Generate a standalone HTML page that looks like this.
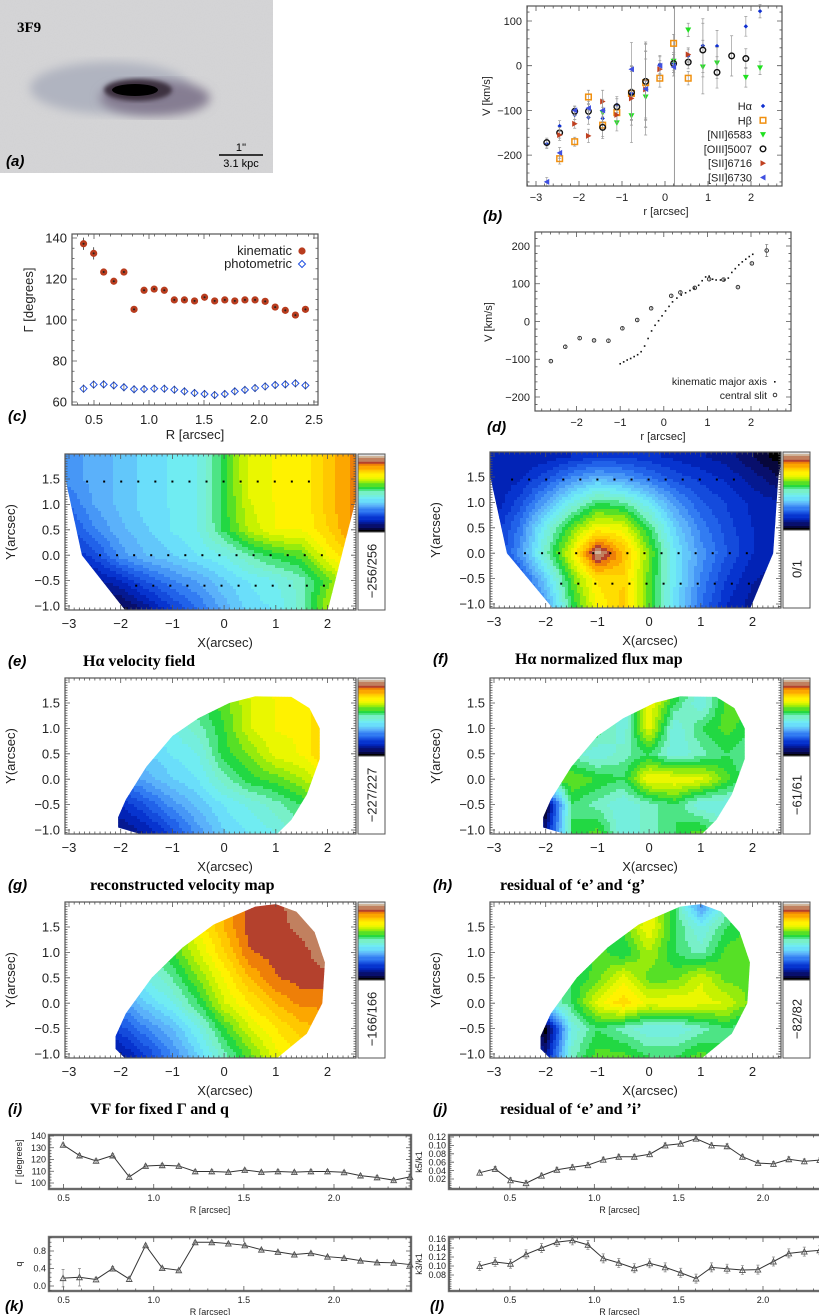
<!DOCTYPE html>
<html><head><meta charset="utf-8">
<style>
html,body{margin:0;padding:0;background:#fff;}
svg{display:block;}
text{font-family:"Liberation Sans",sans-serif;}
.ser{font-family:"Liberation Serif",serif;font-weight:bold;}
</style></head>
<body>
<svg id="fig" xmlns="http://www.w3.org/2000/svg" width="819" height="1315" viewBox="0 0 819 1315">
<defs>
<filter id="blur3"><feGaussianBlur stdDeviation="5"/></filter>
<filter id="blur1"><feGaussianBlur stdDeviation="2"/></filter>
<filter id="noise" x="0" y="0" width="100%" height="100%"><feTurbulence type="fractalNoise" baseFrequency="0.9" numOctaves="2" seed="3"/><feColorMatrix type="matrix" values="0 0 0 0 0.5  0 0 0 0 0.5  0 0 0 0 0.5  0 0 0 0.5 0"/></filter>
</defs>
<g>
<rect x="0" y="0" width="273" height="173" fill="#d6d6d8"/>
<rect x="0" y="0" width="273" height="173" filter="url(#noise)" opacity="0.35"/>
<ellipse cx="110" cy="88" rx="80" ry="26" fill="#b0b4c0" filter="url(#blur3)"/>
<ellipse cx="155" cy="98" rx="55" ry="18" fill="#857d92" filter="url(#blur3)"/>
<ellipse cx="138" cy="90" rx="34" ry="11" fill="#3c3040" filter="url(#blur1)"/>
<ellipse cx="135" cy="90" rx="23" ry="6" fill="#000"/>
<text x="17" y="32" class="ser" font-size="15">3F9</text>
<line x1="219" y1="155" x2="263" y2="155" stroke="#000" stroke-width="1.5"/>
<text x="241" y="151" text-anchor="middle" font-family="Liberation Serif" font-size="11">1''</text>
<text x="241" y="167" text-anchor="middle" font-family="Liberation Serif" font-size="11">3.1 kpc</text>
<text x="6" y="166" font-size="15" font-style="italic" font-weight="bold">(a)</text>
</g>
</svg>
<script>
// ---------------- DATA ----------------
const bR = [-2.75,-2.45,-2.1,-1.78,-1.45,-1.12,-0.78,-0.45,-0.12,0.2,0.54,0.88,1.21,1.55,1.88,2.21];
const bHa   = [-175,-135,-110,-116,-118,-87,-62,-32,3,5,22,45,44,null,88,122];
const bHb   = [null,-208,-170,-70,-133,-105,-62,-38,-28,50,-28,null,null,null,null,null];
const bNII  = [null,null,null,null,-105,-128,-112,-70,null,10,80,-3,6,null,-26,-5];
const bOIII = [-172,-150,-102,-102,-138,-92,-60,-35,null,5,8,35,-15,22,16,null];
const bS16  = [null,-155,-130,-157,-80,-110,-73,-53,-8,null,25,null,null,null,null,null];
const bS30  = [-260,-195,-100,-95,-100,null,-8,-52,0,-3,null,null,null,null,null,null];
const bErr  = [10,12,10,15,25,18,60,85,20,20,15,60,35,45,22,15];
const cR = [0.405,0.497,0.588,0.680,0.772,0.864,0.955,1.047,1.139,1.230,1.322,1.414,1.505,1.597,1.689,1.780,1.872,1.964,2.056,2.147,2.239,2.331,2.422];
const cKin = [137.2,132.5,123.4,118.9,123.4,105.2,114.5,115.1,114.5,109.8,109.8,109.3,111.1,109.3,109.8,109.3,109.8,109.8,109.1,106.3,104.7,102.4,105.2];
const cPhot = [66.5,68.5,68.6,68.1,67.2,66.2,66.3,66.5,66.5,66.0,65.2,64.4,63.9,63.4,63.9,65.2,65.9,66.8,67.6,68.3,68.6,69.1,68.1];
const dSlitR = [-2.59,-2.26,-1.93,-1.6,-1.27,-0.95,-0.61,-0.29,0.17,0.38,0.71,1.04,1.37,1.7,2.02,2.36];
const dSlitV = [-105,-67,-44,-50,-51,-18,4,35,68,77,89,112,111,91,154,188];
const dKmaR = [-1.0,-0.92,-0.84,-0.76,-0.68,-0.6,-0.52,-0.44,-0.36,-0.28,-0.2,-0.12,-0.04,0.04,0.12,0.2,0.3,0.4,0.5,0.6,0.7,0.8,0.88,0.96,1.04,1.12,1.2,1.3,1.4,1.48,1.56,1.64,1.72,1.8,1.88,1.96,2.04];
const dKmaV = [-112,-107,-102,-98,-93,-88,-80,-65,-45,-25,-10,2,15,28,40,52,62,70,76,82,88,96,108,118,120,112,110,110,110,115,130,140,150,158,165,172,178];
const qVal = [0.17,0.18,0.2,0.15,0.4,0.16,0.93,0.41,0.36,1.0,1.0,0.97,0.93,0.83,0.78,0.72,0.75,0.67,0.64,0.58,0.54,0.53,0.49];
const qErr = [0.2,0.2,0.2,0.05,0.05,0.05,0.03,0.03,0.03,0.03,0.03,0.03,0.03,0.03,0.03,0.03,0.03,0.03,0.03,0.03,0.03,0.03,0.03];
const kR = [0.32,0.412,0.503,0.595,0.687,0.778,0.870,0.962,1.053,1.145,1.237,1.328,1.420,1.512,1.603,1.695,1.787,1.878,1.970,2.062,2.153,2.245,2.337];
const k5Val = [0.035,0.044,0.017,0.01,0.028,0.042,0.048,0.053,0.066,0.073,0.073,0.079,0.1,0.104,0.116,0.1,0.098,0.073,0.058,0.056,0.067,0.062,0.065];
const k3Val = [0.1,0.109,0.105,0.126,0.14,0.153,0.157,0.147,0.117,0.107,0.095,0.106,0.097,0.085,0.072,0.097,0.094,0.091,0.092,0.11,0.128,0.132,0.135];
const mapX = [-3,-2.5,-2,-1.5,-1,-0.5,0,0.5,1,1.5,2,2.5];
const mapY = [1.9,1.5,1.0,0.5,0,-0.5,-1.05];
const mapE = [
[.3,.33,.36,.4,.42,.45,.57,.7,.72,.72,.8,.86],
[.3,.33,.36,.4,.42,.45,.57,.7,.72,.72,.8,.86],
[.25,.32,.36,.4,.42,.45,.57,.68,.72,.72,.8,.86],
[.2,.28,.34,.38,.42,.45,.56,.66,.72,.72,.78,.86],
[.15,.2,.3,.35,.38,.42,.45,.52,.57,.6,.72,.8],
[.05,.1,.15,.22,.28,.32,.38,.42,.45,.5,.6,.7],
[0,0,.03,.1,.18,.25,.33,.4,.42,.5,.65,.72]];
const mapF = [
[.12,.12,.13,.15,.18,.18,.16,.14,.12,.1,.05,0],
[.12,.14,.2,.28,.33,.3,.25,.2,.17,.14,.1,.05],
[.12,.2,.32,.45,.55,.52,.42,.3,.22,.18,.14,.12],
[.15,.26,.45,.6,.72,.7,.55,.38,.27,.2,.15,.12],
[.15,.3,.5,.7,.97,.82,.62,.42,.3,.22,.15,.12],
[.1,.2,.38,.6,.76,.78,.6,.42,.28,.18,.12,.1],
[.05,.12,.3,.55,.72,.8,.6,.4,.25,.15,.1,.08]];
const mapG = [
[.4,.42,.45,.5,.55,.57,.6,.7,.72,.72,.8,.85],
[.38,.4,.42,.45,.5,.55,.6,.68,.72,.72,.8,.85],
[.33,.36,.4,.42,.45,.5,.58,.68,.72,.72,.8,.85],
[.28,.3,.33,.38,.42,.45,.57,.62,.7,.72,.8,.85],
[.2,.22,.28,.33,.38,.42,.5,.57,.6,.65,.72,.8],
[.1,.12,.15,.22,.3,.36,.42,.46,.5,.55,.6,.7],
[.03,.05,.08,.12,.2,.3,.38,.42,.45,.5,.55,.6]];
const mapH = [
[.5,.5,.5,.5,.55,.45,.7,.65,.45,.55,.6,.6],
[.5,.5,.5,.55,.6,.45,.72,.55,.45,.6,.6,.6],
[.5,.5,.5,.6,.55,.45,.7,.45,.55,.6,.55,.55],
[.5,.5,.55,.5,.45,.5,.55,.45,.5,.55,.5,.5],
[.5,.5,.58,.62,.58,.55,.72,.72,.7,.6,.5,.5],
[.5,.15,0,.55,.5,.45,.5,.55,.45,.45,.5,.5],
[.5,.3,.1,.55,.6,.45,.5,.55,.6,.5,.5,.5]];
const mapI = [
[.4,.45,.5,.55,.62,.72,.82,.9,.9,.95,.98,1],
[.38,.42,.5,.55,.6,.72,.82,.9,.9,.93,.97,1],
[.35,.4,.45,.52,.58,.68,.78,.88,.9,.9,.95,.95],
[.3,.35,.4,.45,.52,.62,.72,.82,.88,.9,.9,.9],
[.2,.25,.3,.38,.45,.55,.68,.75,.82,.86,.86,.86],
[.1,.12,.2,.28,.35,.45,.58,.68,.75,.8,.82,.82],
[.05,.08,.1,.18,.28,.38,.5,.6,.7,.75,.78,.8]];
const mapJ = [
[.5,.5,.5,.5,.55,.6,.7,.55,.3,.5,.6,.6],
[.5,.5,.5,.5,.55,.6,.72,.55,.45,.55,.6,.6],
[.5,.5,.5,.5,.6,.55,.65,.55,.5,.6,.6,.6],
[.5,.5,.5,.55,.6,.7,.6,.6,.68,.6,.6,.6],
[.5,.5,.45,.55,.7,.78,.7,.72,.7,.68,.6,.6],
[.5,.15,0,.45,.55,.5,.45,.45,.5,.55,.5,.5],
[.5,.3,.1,.5,.6,.6,.55,.55,.6,.55,.5,.5]];

// ---------------- HELPERS ----------------
const NS='http://www.w3.org/2000/svg';
const svg=document.getElementById('fig');
function mk(tag,attrs,parent){const e=document.createElementNS(NS,tag);for(const k in attrs)e.setAttribute(k,attrs[k]);(parent||svg).appendChild(e);return e;}
function txt(x,y,s,attrs,parent){const e=mk('text',Object.assign({x:x,y:y},attrs||{}),parent);e.textContent=s;return e;}
function lin(d0,d1,p0,p1){return function(v){return p0+(v-d0)*(p1-p0)/(d1-d0);};}
function fmt(v,dec){return (v<0?'\u2212':'')+Math.abs(v).toFixed(dec);}

const stops=[[0,0,0,0],[0.05,10,10,90],[0.15,0,40,200],[0.25,40,110,240],[0.33,90,175,250],[0.42,110,235,250],[0.5,120,240,200],[0.57,30,215,60],[0.65,180,240,0],[0.72,255,250,0],[0.8,255,200,0],[0.86,250,140,0],[0.9,180,65,45],[0.95,200,160,120],[1,225,225,225]];
function cmap(t){t=Math.max(0,Math.min(1,t));for(let i=1;i<stops.length;i++){if(t<=stops[i][0]){const a=stops[i-1],b=stops[i],f=(t-a[0])/(b[0]-a[0]);return 'rgb('+[1,2,3].map(k=>Math.round(a[k]+(b[k]-a[k])*f)).join(',')+')';}}return 'rgb(225,225,225)';}

function frame(g,x0,y0,x1,y1,sx,sy,xt,yt,xm,ym,fs,xdec,ydec,xlabY,ylabX){
  const f=mk('rect',{x:x0,y:y0,width:x1-x0,height:y1-y0,fill:'none',stroke:'#555','stroke-width':1.2},g);
  
  
  const tk=mk('g',{stroke:'#555','stroke-width':0.8},g);
  
  
  let d='';
  xt.forEach(v=>{const x=sx(v);if(x<x0-0.5||x>x1+0.5)return;d+='M'+x+' '+y1+'v-5M'+x+' '+y0+'v5';});
  xm.forEach(v=>{const x=sx(v);if(x<x0||x>x1)return;d+='M'+x+' '+y1+'v-2.5M'+x+' '+y0+'v2.5';});
  yt.forEach(v=>{const y=sy(v);if(y<y0-0.5||y>y1+0.5)return;d+='M'+x0+' '+y+'h5M'+x1+' '+y+'h-5';});
  ym.forEach(v=>{const y=sy(v);if(y<y0||y>y1)return;d+='M'+x0+' '+y+'h2.5M'+x1+' '+y+'h-2.5';});
  mk('path',{d:d,fill:'none'},tk);
  xt.forEach(v=>{const x=sx(v);if(x<x0-2||x>x1+2)return;
    const t=txt(x,xlabY,fmt(v,xdec),{'text-anchor':'middle','font-size':fs,fill:'#222'},g);
    
    });
  yt.forEach(v=>{const y=sy(v);if(y<y0-2||y>y1+2)return;
    const t=txt(ylabX,y+fs*0.35,fmt(v,ydec),{'text-anchor':'end','font-size':fs,fill:'#222'},g);
    
    });
}
function range(a,b,s){const r=[];for(let v=a;v<=b+1e-9;v+=s)r.push(+v.toFixed(4));return r;}
function label(x,y,s,name){const t=txt(x,y,s,{'font-size':15,'font-style':'italic','font-weight':'bold'});
  
  return t;}
function vtitle(x,y,s,fs,name,g){const t=txt(x,y,s,{'font-size':fs,'text-anchor':'middle',transform:'rotate(-90 '+x+' '+y+')',fill:'#222'},g);
  
  return t;}
function htitle(x,y,s,fs,name,g){const t=txt(x,y,s,{'font-size':fs,'text-anchor':'middle',fill:'#222'},g);
  
  return t;}

// ---------------- PANEL B ----------------
(function(){
  const g=mk('g',{});
  
  
  const x0=527,x1=782,y0=6,y1=186;
  const sx=lin(-3,2,536,751), sy=lin(0,100,65.7,21);
  const vl=mk('line',{x1:sx(0.22),x2:sx(0.22),y1:y0,y2:y1,stroke:'#999','stroke-width':1},g);
  
  
  const series=[[bHa,'ha'],[bHb,'hb'],[bNII,'nii'],[bOIII,'oiii'],[bS16,'sii6716'],[bS30,'sii6730']];
  function marker(kind,x,y,p){let e;
    if(kind==='ha'){e=mk('path',{d:'M'+(x-2.2)+' '+y+'L'+x+' '+(y-2.2)+'L'+(x+2.2)+' '+y+'L'+x+' '+(y+2.2)+'Z',fill:'#1030d0'},p);}
    else if(kind==='hb'){e=mk('rect',{x:x-2.8,y:y-2.8,width:5.6,height:5.6,fill:'none',stroke:'#f09010','stroke-width':1.5},p);}
    else if(kind==='nii'){e=mk('path',{d:'M'+(x-3)+' '+(y-2.5)+'h6L'+x+' '+(y+3)+'Z',fill:'#20e020'},p);}
    else if(kind==='oiii'){e=mk('circle',{cx:x,cy:y,r:2.8,fill:'none',stroke:'#111','stroke-width':1.4},p);}
    else if(kind==='sii6716'){e=mk('path',{d:'M'+(x-2.5)+' '+(y-3)+'L'+(x+3)+' '+y+'L'+(x-2.5)+' '+(y+3)+'Z',fill:'#c04020'},p);}
    else {e=mk('path',{d:'M'+(x+2.5)+' '+(y-3)+'L'+(x-3)+' '+y+'L'+(x+2.5)+' '+(y+3)+'Z',fill:'#4050e0'},p);}
    return e;}
  series.forEach(([arr,kind])=>{
    const sg=mk('g',{},g);
    
    
    arr.forEach((v,i)=>{if(v===null)return;const x=sx(bR[i]),y=sy(v),e=sy(v+bErr[i])-y;
      const eb=mk('path',{d:'M'+x+' '+(y+e)+'V'+(y-e)+'M'+(x-1.5)+' '+(y+e)+'h3M'+(x-1.5)+' '+(y-e)+'h3',stroke:'#999','stroke-width':0.7,fill:'none'},sg);
      
      
      const m=marker(kind,x,y,sg);
      
      });
  });
  frame(g,x0,y0,x1,y1,sx,sy,[-3,-2,-1,0,1,2],[-200,-100,0,100],range(-3.2,2.6,0.2),range(-260,130,20),11,0,0,201,522);
  vtitle(490,96,'V [km/s]',11,'y-axis-title',g);
  htitle(666,215,'r [arcsec]',11,'x-axis-title',g);
  const labs=[['H\u03b1','ha'],['H\u03b2','hb'],['[NII]6583','nii'],['[OIII]5007','oiii'],['[SII]6716','sii6716'],['[SII]6730','sii6730']];
  labs.forEach(([s,k],i)=>{const y=106+i*14.3;
    const t=txt(752,y+4,s,{'text-anchor':'end','font-size':11,fill:'#222'},g);
    
    
    const m=marker(k,763,y,g);
    
    });
})();
label(483,221,'(b)','panel-b-label');

// ---------------- PANEL C ----------------
(function(){
  const g=mk('g',{});
  
  
  const sx=lin(0.5,2.5,94,314), sy=lin(140,60,238,402);
  frame(g,72,234,318,405,sx,sy,[0.5,1,1.5,2,2.5],[60,80,100,120,140],range(0.35,2.5,0.1),range(60,140,5),13,1,0,424,67);
  cKin.forEach((v,i)=>{const x=sx(cR[i]),y=sy(v);
    const eb=mk('line',{x1:x,x2:x,y1:sy(v+(i<2?3:0.8)),y2:sy(v-(i<2?3:0.8)),stroke:'#333','stroke-width':0.8},g);
    
    
    const c=mk('circle',{cx:x,cy:y,r:3.6,fill:'#b83c1e'},g);
    
    
    const d=mk('circle',{cx:x,cy:y,r:1,fill:'#222'},g);
    
    });
  cPhot.forEach((v,i)=>{const x=sx(cR[i]),y=sy(v);
    const d=mk('path',{d:'M'+(x-3.5)+' '+y+'L'+x+' '+(y-3.5)+'L'+(x+3.5)+' '+y+'L'+x+' '+(y+3.5)+'Z',fill:'none',stroke:'#2050e0','stroke-width':1},g);
    
    
    const eb=mk('line',{x1:x,x2:x,y1:y-4,y2:y+4,stroke:'#333','stroke-width':0.6},g);
    
    });
  const t1=txt(292,255,'kinematic',{'text-anchor':'end','font-size':13,fill:'#222'},g);
  
  
  const m1=mk('circle',{cx:302,cy:251,r:3.6,fill:'#b83c1e'},g);
  
  
  const t2=txt(292,268,'photometric',{'text-anchor':'end','font-size':13,fill:'#222'},g);
  
  
  const m2=mk('path',{d:'M298.5 264L302 260.5L305.5 264L302 267.5Z',fill:'none',stroke:'#2050e0','stroke-width':1},g);
  
  
  vtitle(33,300,'\u0393 [degrees]',13,'y-axis-title',g);
  htitle(195,439,'R [arcsec]',13,'x-axis-title',g);
})();
label(8,421,'(c)','panel-c-label');

// ---------------- PANEL D ----------------
(function(){
  const g=mk('g',{});
  
  
  const sx=lin(-2,2,576.6,751), sy=lin(200,-200,246,397);
  frame(g,535,232,791,411,sx,sy,[-2,-1,0,1,2],[-200,-100,0,100,200],range(-2.8,2.8,0.2),range(-220,220,20),11,0,0,426,530);
  dKmaV.forEach((v,i)=>{const c=mk('rect',{x:sx(dKmaR[i])-0.8,y:sy(v)-0.8,width:1.6,height:1.6,fill:'#111'},g);
    
    });
  dSlitV.forEach((v,i)=>{const x=sx(dSlitR[i]),y=sy(v);
    const c=mk('circle',{cx:x,cy:y,r:1.8,fill:'none',stroke:'#222','stroke-width':0.9},g);
    
    
    const e=(i===15?16:4);
    const eb=mk('path',{d:'M'+x+' '+sy(v+e)+'V'+sy(v-e)+'M'+(x-1.5)+' '+sy(v+e)+'h3M'+(x-1.5)+' '+sy(v-e)+'h3',stroke:'#555','stroke-width':0.6,fill:'none'},g);
    
    });
  const t1=txt(767,385,'kinematic major axis',{'text-anchor':'end','font-size':10.5,fill:'#222'},g);
  
  
  const m1=mk('rect',{x:774,y:381,width:1.6,height:1.6,fill:'#111'},g);
  
  
  const t2=txt(767,399,'central slit',{'text-anchor':'end','font-size':10.5,fill:'#222'},g);
  
  
  const m2=mk('circle',{cx:775,cy:395,r:1.8,fill:'none',stroke:'#222','stroke-width':0.9},g);
  
  
  vtitle(492,322,'V [km/s]',11,'y-axis-title',g);
  htitle(663,440,'r [arcsec]',11,'x-axis-title',g);
})();
label(487,432,'(d)','panel-d-label');

// ---------------- MAPS ----------------
function interp(grid,x,y){
  let ci=0;while(ci<mapX.length-2&&x>mapX[ci+1])ci++;
  let ri=0;while(ri<mapY.length-2&&y<mapY[ri+1])ri++;
  let fx=(x-mapX[ci])/(mapX[ci+1]-mapX[ci]);fx=Math.max(0,Math.min(1,fx));
  let fy=(y-mapY[ri])/(mapY[ri+1]-mapY[ri]);fy=Math.max(0,Math.min(1,fy));
  const a=grid[ri][ci],b=grid[ri][ci+1],c=grid[ri+1][ci],d=grid[ri+1][ci+1];
  return (a*(1-fx)+b*fx)*(1-fy)+(c*(1-fx)+d*fx)*fy;
}
const maskTrap=[[-3.1,2.0],[-3.07,1.5],[-2.75,0],[-1.9,-1.1],[2.0,-1.1],[2.6,1.3],[2.6,2.0]];
const maskTrapF=[[-3.1,2.0],[-3.07,1.5],[-2.75,0],[-1.85,-1.1],[1.95,-1.1],[2.4,0],[2.5,1.5],[2.6,2.0]];
const maskEll=[[-2.05,-0.75],[-1.9,-0.4],[-1.5,0.25],[-1.0,0.85],[-0.5,1.2],[0.1,1.5],[0.6,1.63],[1.3,1.62],[1.65,1.4],[1.85,1.0],[1.85,0.4],[1.6,-0.3],[1.3,-0.8],[1.0,-1.1],[-1.55,-1.1],[-2.05,-0.95]];
const maskEll2=[[-2.1,-0.65],[-1.9,-0.2],[-1.4,0.5],[-0.8,1.1],[-0.2,1.55],[0.6,1.9],[1.0,1.95],[1.4,1.8],[1.75,1.4],[1.95,0.8],[1.9,0.0],[1.6,-0.6],[1.0,-1.1],[-1.9,-1.1],[-2.1,-0.9]];
let clipN=0;
function drawMap(name,grid,mask,x0,y0,cbLabel,dots,lab,labName,title,titleX){
  const x1=x0+291,y1=y0+156;
  const sx=lin(-3,2,x0+4,x0+4+5*51.7), sy=lin(1.5,-1.0,y0+25,y0+152);
  const inv=v=>(v-(x0+4))/51.7-3, invy=v=>1.5-(v-(y0+25))/50.8;
  const g=mk('g',{});
  
  
  const id='clip'+(clipN++);
  const cp=mk('clipPath',{id:id},g);
  mk('polygon',{points:mask.map(p=>sx(p[0])+','+sy(p[1])).join(' ')},cp);
  const cg=mk('g',{'clip-path':'url(#'+id+')'},g);
  
  
  const cs=3;
  for(let py=y0;py<y1;py+=cs){for(let px=x0;px<x1;px+=cs){
    const v=interp(grid,inv(px+cs/2),invy(py+cs/2));
    const q=Math.round(v*30)/30;
    mk('rect',{x:px,y:py,width:cs+0.3,height:cs+0.3,fill:cmap(q)},cg);
  }}
  if(dots){dots.forEach(row=>{for(let xv=row[1];xv<=row[2]+1e-6;xv+=row[3]){
    const d=mk('rect',{x:sx(xv)-1,y:sy(row[0])-1,width:2,height:2,fill:'#000'},g);
    
    }});}
  frame(g,x0,y0,x1,y1,sx,sy,[-3,-2,-1,0,1,2],[-1,-0.5,0,0.5,1,1.5],range(-3,2.5,0.1),range(-1.05,1.95,0.05),13,0,1,y0+174,x0-5);
  const cb=mk('g',{},g);
  
  
  const cx=x1+2,cw=27,ch=78,nb=40;
  for(let i=0;i<nb;i++){const t=1-i/(nb-1);
    mk('rect',{x:cx,y:y0+i*ch/nb,width:cw,height:ch/nb+0.5,fill:cmap(Math.round(t*30)/30)},cb);}
  mk('rect',{x:cx,y:y0,width:cw,height:156,fill:'none',stroke:'#555','stroke-width':1},cb);
  mk('line',{x1:cx,x2:cx+cw,y1:y0+ch,y2:y0+ch,stroke:'#555'},cb);
  const ct=txt(cx+cw/2+5,y0+117,cbLabel,{'font-size':13,'text-anchor':'middle',transform:'rotate(-90 '+(cx+cw/2+5)+' '+(y0+117)+')',fill:'#222'},cb);
  
  
  vtitle(x0-50,y0+78,'Y(arcsec)',13,'y-axis-title',g);
  htitle(x0+160,y0+193,'X(arcsec)',13,'x-axis-title',g);
  label(x0-57,y0+212,lab,labName);
  const tt=txt(titleX,y0+212,title,{'font-size':16,'class':'ser'});
  
  
}
drawMap('panel-e-velocity-field',mapE,maskTrap,65,454,'\u2212256/256',[[1.45,-2.65,1.7,0.33],[0,-2.4,2.1,0.33],[-0.6,-1.7,2.0,0.33]],'(e)','panel-e-label','H\u03b1 velocity field',83);
drawMap('panel-f-flux-map',mapF,maskTrapF,490,452,'0/1',[[1.45,-2.65,1.7,0.33],[0,-2.4,2.1,0.33],[-0.6,-1.7,2.0,0.33]],'(f)','panel-f-label','H\u03b1 normalized flux map',515);
drawMap('panel-g-reconstructed-velocity',mapG,maskEll,65,678,'\u2212227/227',null,'(g)','panel-g-label','reconstructed velocity map',90);
drawMap('panel-h-residual-e-g',mapH,maskEll,490,678,'\u221261/61',null,'(h)','panel-h-label','residual of \u2018e\u2019 and \u2018g\u2019',500);
drawMap('panel-i-fixed-model-velocity',mapI,maskEll2,65,902,'\u2212166/166',null,'(i)','panel-i-label','VF for fixed \u0393 and q',90);
drawMap('panel-j-residual-e-i',mapJ,maskEll2,490,902,'\u221282/82',null,'(j)','panel-j-label','residual of \u2018e\u2019 and \u2019i\u2019',500);

// ---------------- BOTTOM PROFILES ----------------
function profile(name,xs,vals,errs,x0,y0,x1,y1,sx,sy,yt,ydec,ytitle,ylim,xr){
  const g=mk('g',{});
  
  
  mk('rect',{x:x0,y:y0,width:x1-x0,height:y1-y0,fill:'none',stroke:'#888','stroke-width':2.5},g);
  frame(g,x0,y0,x1,y1,sx,sy,[0.5,1,1.5,2],yt,range(xr[0],xr[1],0.1),range(ylim[0],ylim[1],(yt[1]-yt[0])/4),9,1,ydec,y1+12,x0-3);
  const pts=xs.map((r,i)=>[sx(r),sy(vals[i])]).filter(p=>p[0]>=x0-1&&p[0]<=x1+1);
  const pl=mk('polyline',{points:pts.map(p=>p.join(',')).join(' '),fill:'none',stroke:'#333','stroke-width':1},g);
  
  
  vals.forEach((v,i)=>{const x=sx(xs[i]);if(x<x0||x>x1)return;const y=sy(v);const e=Math.abs(sy(v+errs[i])-y);
    const eb=mk('path',{d:'M'+x+' '+(y-e)+'V'+(y+e)+'M'+(x-1.5)+' '+(y-e)+'h3M'+(x-1.5)+' '+(y+e)+'h3',stroke:'#888','stroke-width':0.7,fill:'none'},g);
    
    
    const t=mk('path',{d:'M'+(x-2.8)+' '+(y+2.5)+'h5.6L'+x+' '+(y-2.8)+'Z',fill:'none',stroke:'#555','stroke-width':0.9},g);
    
    });
  vtitle(x0-27,(y0+y1)/2,ytitle,9,'y-axis-title',g);
  htitle((x0+x1)/2-20,y1+24,'R [arcsec]',9,'x-axis-title',g);
}
const lsx=lin(0.5,2.0,63.6,334), rsx=lin(0.5,2.0,510,763);
profile('panel-i-gamma-profile',cR,cKin,cKin.map(()=>1.5),49,1135,411,1189,lsx,lin(140,100,1136,1183),[100,110,120,130,140],0,'\u0393 [degrees]',[95,140],[0.4,2.4]);
profile('panel-k-q-profile',cR,qVal,qErr,49,1237,411,1291,lsx,lin(0.8,0,1251,1286),[0,0.4,0.8],1,'q',[-0.1,1.1],[0.4,2.4]);
profile('panel-j-k5-profile',kR,k5Val,k5Val.map(()=>0.006),449,1135,830,1189,rsx,lin(0.12,0.02,1137,1179),[0.02,0.04,0.06,0.08,0.10,0.12],2,'k5/k1',[0,0.125],[0.2,2.3]);
profile('panel-l-k3-profile',kR,k3Val,k3Val.map(()=>0.01),449,1237,830,1291,rsx,lin(0.16,0.08,1239,1275),[0.08,0.10,0.12,0.14,0.16],2,'k3/k1',[0.045,0.165],[0.2,2.3]);
label(5,1311,'(k)','panel-k-label');
label(430,1311,'(l)','panel-l-label');
</script>
</body></html>
